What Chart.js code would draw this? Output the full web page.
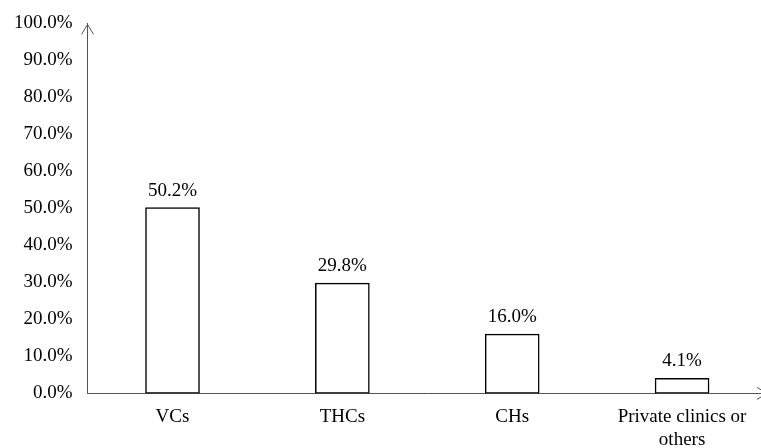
<!DOCTYPE html>
<html>
<head>
<meta charset="utf-8">
<script src="https://cdn.jsdelivr.net/npm/chart.js@4/dist/chart.umd.min.js"></script>
<style>
	html, body { margin: 0; padding: 0; background: #fff; overflow: hidden; }
	#chart { display: block; margin-top: -3px; }
</style>
</head>
<body>
<canvas id="chart" width="771" height="466"></canvas>
<script>
const categories = ['VCs', 'THCs', 'CHs', ['Private clinics or', 'others']]
const shares = [50.2, 29.8, 16.0, 4.1]
const yTicks = [0, 10, 20, 30, 40, 50, 60, 70, 80, 90, 100]

const FONT = "'Liberation Serif', 'Times New Roman', serif"
const AXIS = '#555'

// value labels above bars + the little arrows at the axis ends
const extras = {
	id: 'extras',
	afterDatasetsDraw(chart) {
		const ctx = chart.ctx
		const meta = chart.getDatasetMeta(0)
		ctx.save()
		ctx.fillStyle = '#000'
		ctx.font = '19px ' + FONT
		ctx.textAlign = 'center'
		ctx.textBaseline = 'alphabetic'
		meta.data.forEach((bar, i) => {
			ctx.fillText(shares[i].toFixed(1) + '%', bar.x, bar.y - 12)
		})

		const { left, top, right, bottom } = chart.chartArea
		ctx.strokeStyle = AXIS
		ctx.lineWidth = 1
		ctx.beginPath()
		ctx.moveTo(left - 6, top + 11)
		ctx.lineTo(left, top + 1)
		ctx.lineTo(left + 6, top + 11)
		ctx.moveTo(right - 10, bottom - 6)
		ctx.lineTo(right, bottom)
		ctx.lineTo(right - 10, bottom + 6)
		ctx.stroke()
		ctx.restore()
	},
}

const ctx = document.getElementById('chart').getContext('2d')
const myChart = new Chart(ctx, {
	type: 'bar',
	data: {
		labels: categories,
		datasets: [
			{
				data: shares,
				backgroundColor: '#fff',
				borderColor: '#000',
				borderWidth: 1.5,
				borderSkipped: false,
				barThickness: 54,
			},
		],
	},
	options: {
		responsive: false,
		animation: false,
		layout: {
			padding: { left: -1, right: 4, top: 4, bottom: 0 },
		},
		plugins: {
			legend: { display: false },
			tooltip: { enabled: false },
		},
		scales: {
			x: {
				grid: { display: false, drawTicks: false },
				border: { color: AXIS, width: 1 },
				ticks: {
					color: '#000',
					font: { family: FONT, size: 19 },
					padding: 12,
					maxRotation: 0,
					autoSkip: false,
				},
			},
			y: {
				min: 0,
				max: 100,
				afterBuildTicks: axis => {
					axis.ticks = yTicks.map(v => ({ value: v }))
				},
				grid: { display: false, drawTicks: false },
				border: { color: AXIS, width: 1 },
				ticks: {
					color: '#000',
					font: { family: FONT, size: 19 },
					padding: 15,
					callback: v => v.toFixed(1) + '%',
				},
			},
		},
	},
	plugins: [extras],
})
</script>
</body>
</html>
